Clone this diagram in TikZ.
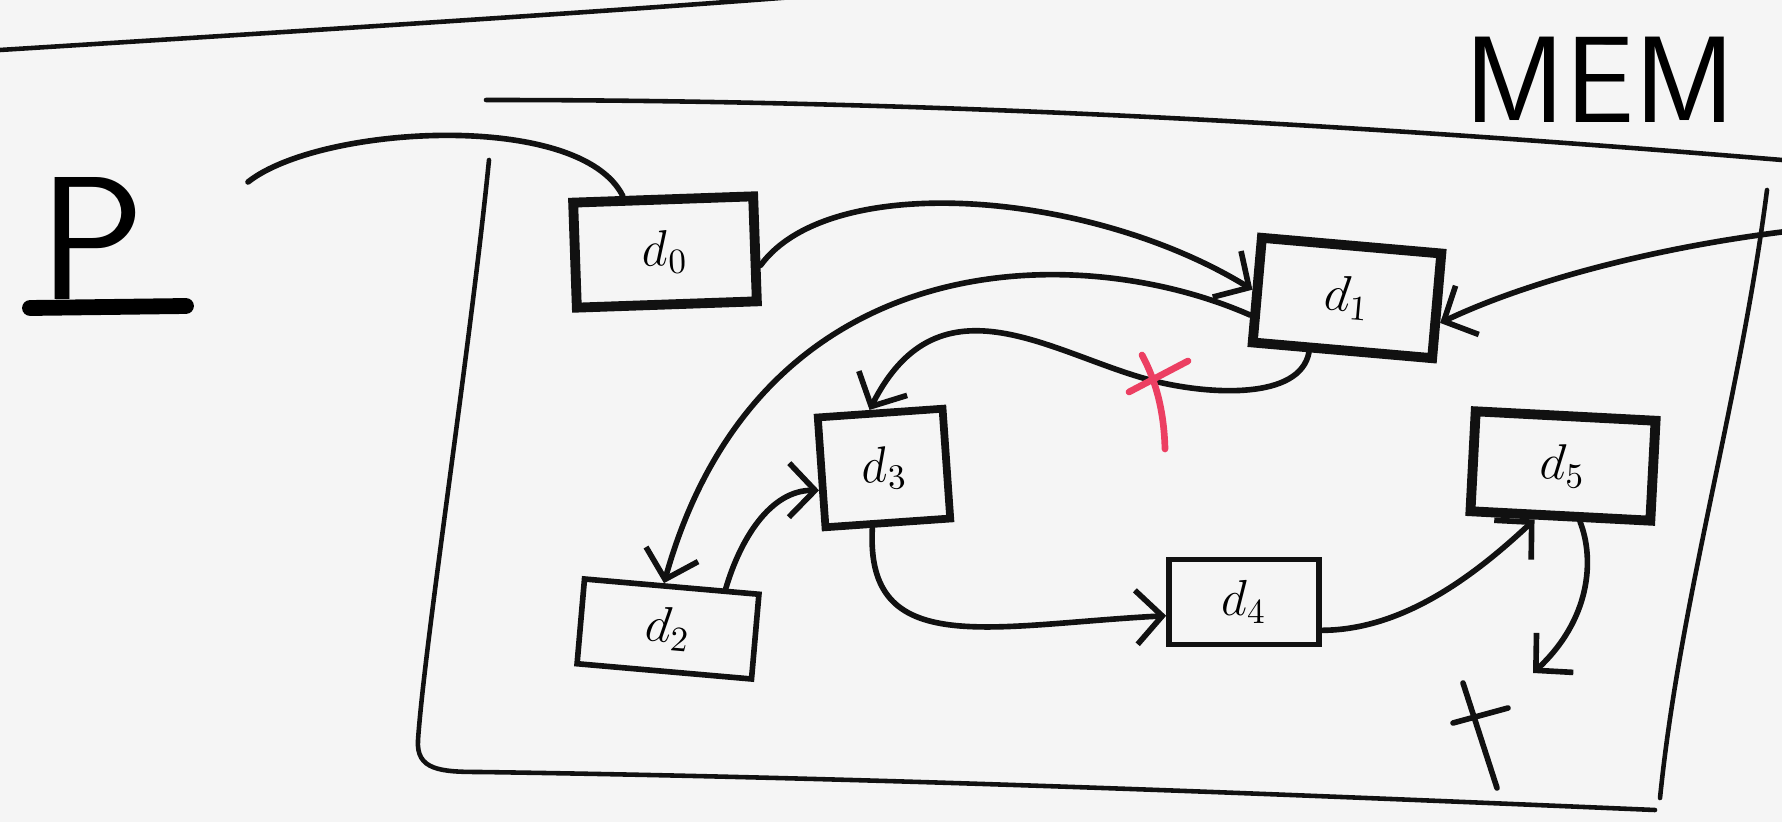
\documentclass[tikz,border=0pt]{standalone}
\usepackage{amsmath}
\usepackage{tikz}
\usetikzlibrary{arrows.meta,calc,positioning}
\definecolor{paper}{HTML}{F5F5F5}
\definecolor{ink}{HTML}{111111}
\definecolor{cutred}{HTML}{EC3F62}

\begin{document}
\begin{tikzpicture}[x=0.01cm, y=-0.01cm,
  >={Straight Barb[length=2.6mm,width=5.4mm]},
  cell/.style={draw=ink, line width=2.8pt, inner sep=0pt, font=\Large,
    minimum width=1.8cm, minimum height=1.05cm},
  thincell/.style={cell, line width=1.6pt},
  link/.style={draw=ink, line width=1.6pt, line cap=round},
  wall/.style={draw=ink, line width=1.3pt, line cap=round}]
  \useasboundingbox[fill=paper] (0,0) rectangle (1782,822);
  % top rule and process P
  \draw[wall] (0,50) .. controls (350,28) and (600,12) .. (820,-5);
  \node[font=\sffamily\fontsize{50}{54}\selectfont, anchor=base] (p) at (92,300) {P};
  \draw[line width=4.5pt, line cap=round] (30,308) -- (186,306);
  \node[font=\sffamily\fontsize{35}{40}\selectfont] (mem) at (1600,80) {MEM};
  % memory region
  \draw[wall] (486,100) .. controls (900,100) and (1300,120) .. (1782,160);
  \draw[wall] (489,160) .. controls (470,350) and (425,640) .. (418,740)
    .. controls (416,770) and (440,772) .. (480,772)
    .. controls (900,778) and (1300,795) .. (1655,810);
  \draw[wall] (1767,190) .. controls (1740,400) and (1680,600) .. (1660,798);
  % blocks
  \node[cell, rotate=2] (d0) at (665,252) {$d_0$};
  \node[cell, rotate=-5] (d1) at (1347,298) {$d_1$};
  \node[cell, line width=2.2pt, minimum width=1.25cm, minimum height=1.1cm, rotate=4] (d3) at (884,468) {$d_3$};
  \node[thincell, minimum width=1.75cm, minimum height=0.85cm, rotate=-5] (d2) at (668,629) {$d_2$};
  \node[thincell, minimum width=1.5cm, minimum height=0.85cm] (d4) at (1244,602) {$d_4$};
  \node[cell, minimum height=1.0cm, rotate=-3] (d5) at (1563,466) {$d_5$};
  % pointers
  \coordinate (pout) at (248,182);
  \coordinate (memin) at (1782,232);
  \coordinate (cut) at (1154,381);
  \coordinate (nil) at (1533,673);
  \draw[link] (pout) .. controls (320,125) and (580,110) .. (d0.125);
  \draw[link,->] (d0.-10) .. controls (830,170) and (1090,190) .. (d1.west);
  \draw[link,->] (memin) .. controls (1640,250) and (1520,285) .. (d1.-10);
  \draw[link,->] (d1.195) .. controls (1080,240) and (760,240) .. (d2.100);
  \draw[link,->] (d1.240) .. controls (1300,400) and (1210,395) .. (cut)
    .. controls (1054,356) and (940,270) .. (d3.100);
  \draw[link,->] (d2.40) .. controls (740,540) and (770,490) .. (d3.195);
  \draw[link,->] (d3.255) .. controls (865,660) and (990,625) .. (d4.190);
  \draw[link,->] (d4.-20) .. controls (1400,630) and (1470,580) .. (d5.245);
  \draw[link,->] (d5.290) .. controls (1595,560) and (1590,620) .. (nil);
  % end mark
  \draw[link] ($(nil)+(-70,10)$) -- ($(nil)+(-36,115)$);
  \draw[link] ($(nil)+(-80,50)$) -- ($(nil)+(-25,35)$);
  % cut link
  \draw[cutred, line width=1.9pt, line cap=round] ($(cut)+(-25,11)$) -- ($(cut)+(34,-20)$);
  \draw[cutred, line width=1.9pt, line cap=round] ($(cut)+(-12,-26)$)
    .. controls ($(cut)+(2,0)$) and ($(cut)+(10,30)$) .. ($(cut)+(11,68)$);
\end{tikzpicture}
\end{document}
